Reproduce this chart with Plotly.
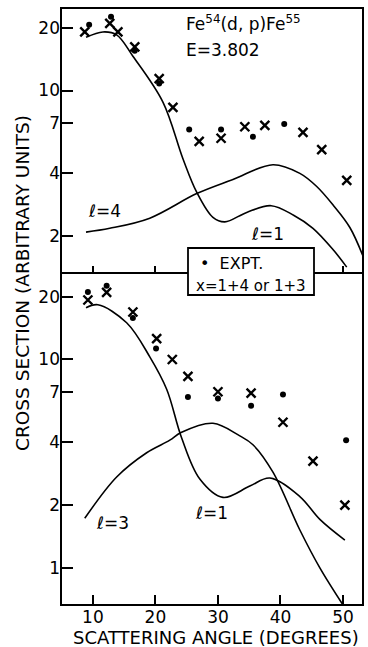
import plotly.graph_objects as go

# ---------------- data ----------------
# top panel (l=1 + l=4)
top_dot_x = [9.4, 12.9, 16.7, 20.6, 25.4, 30.5, 35.6, 40.6]
top_dot_y = [20.7, 22.6, 15.5, 10.8, 6.5, 6.5, 6.0, 6.9]
top_x_x = [8.7, 12.7, 14.0, 16.7, 20.6, 22.8, 27.0, 30.5, 34.3, 37.5, 43.6, 46.6, 50.6]
top_x_y = [19.1, 21.0, 19.1, 16.2, 11.4, 8.3, 5.7, 5.9, 6.7, 6.8, 6.3, 5.2, 3.7]
top_l1_x = [8.9, 11.6, 13.8, 16.4, 21.2, 24.4, 26.6, 29.2, 31.1, 34.6, 38.5, 42.1, 45.2, 48.5, 50.6]
top_l1_y = [18.0, 19.1, 18.5, 14.6, 8.8, 4.7, 3.25, 2.46, 2.34, 2.6, 2.8, 2.52, 2.18, 1.71, 1.42]
top_l4_x = [8.9, 12.7, 19.1, 26.6, 32.4, 38.8, 43.1, 45.8, 48.5, 51.1, 53.4]
top_l4_y = [2.09, 2.18, 2.44, 3.2, 3.74, 4.4, 4.0, 3.46, 2.8, 2.2, 1.55]

# bottom panel (l=1 + l=3)
bot_dot_x = [9.2, 12.2, 16.4, 20.1, 25.2, 30.0, 35.3, 40.4, 50.5]
bot_dot_y = [21.1, 22.6, 15.8, 11.3, 6.6, 6.5, 6.0, 6.8, 4.1]
bot_x_x = [9.2, 12.2, 16.4, 20.2, 22.7, 25.2, 30.0, 35.3, 40.4, 45.2, 50.3]
bot_x_y = [19.3, 21.0, 16.9, 12.6, 10.0, 8.3, 7.0, 6.9, 5.0, 3.25, 2.0]
bot_l1_x = [8.9, 10.8, 15.4, 19.1, 21.8, 24.2, 27.1, 30.8, 35.1, 38.3, 43.1, 46.3, 50.3]
bot_l1_y = [17.7, 18.3, 15.0, 10.3, 7.2, 4.2, 2.67, 2.18, 2.47, 2.7, 2.2, 1.71, 1.36]
bot_l3_x = [8.7, 13.8, 18.6, 22.3, 24.1, 29.2, 33.5, 35.6, 38.8, 43.1, 46.3, 50.0]
bot_l3_y = [1.73, 2.73, 3.57, 4.1, 4.46, 4.94, 4.3, 3.9, 2.88, 1.52, 1.0, 0.664]

x_ticks = [10, 20, 30, 40, 50]
top_yticks = [2, 4, 7, 10, 20]
bot_yticks = [1, 2, 4, 7, 10, 20]

FONT = "DejaVu Sans"
BLACK = "black"

fig = go.Figure()

def curve(x, y, xa, ya):
    fig.add_trace(go.Scatter(x=x, y=y, xaxis=xa, yaxis=ya, mode="lines",
                             line=dict(color=BLACK, width=1.6, shape="spline", smoothing=1.0),
                             showlegend=False, hoverinfo="skip"))

def dots(x, y, xa, ya):
    fig.add_trace(go.Scatter(x=x, y=y, xaxis=xa, yaxis=ya, mode="markers",
                             marker=dict(symbol="circle", size=6, color=BLACK),
                             showlegend=False))

def crosses(x, y, xa, ya):
    fig.add_trace(go.Scatter(x=x, y=y, xaxis=xa, yaxis=ya, mode="markers",
                             marker=dict(symbol="x-thin", size=9, color=BLACK,
                                         line=dict(color=BLACK, width=2.4)),
                             showlegend=False))

curve(top_l1_x, top_l1_y, "x2", "y2")
curve(top_l4_x, top_l4_y, "x2", "y2")
dots(top_dot_x, top_dot_y, "x2", "y2")
crosses(top_x_x, top_x_y, "x2", "y2")

curve(bot_l1_x, bot_l1_y, "x", "y")
curve(bot_l3_x, bot_l3_y, "x", "y")
dots(bot_dot_x, bot_dot_y, "x", "y")
crosses(bot_x_x, bot_x_y, "x", "y")

split = (605 - 273) / 597.0
xr = [4.9, 53.2]
tickfont = dict(family=FONT, size=17, color=BLACK)

common_x = dict(range=xr, showgrid=False, zeroline=False, showline=False,
                tickvals=x_ticks, ticks="inside", tickcolor=BLACK, tickwidth=1.5)
common_y = dict(type="log", showgrid=False, zeroline=False, showline=False,
                ticks="inside", ticklen=12, tickcolor=BLACK, tickwidth=1.5, tickfont=tickfont)
fig.update_layout(
    width=368, height=647,
    margin=dict(l=61, r=5, t=8, b=42),
    paper_bgcolor="white", plot_bgcolor="white",
    showlegend=False,
    xaxis=dict(**common_x, anchor="y", ticklen=10, tickfont=tickfont,
               ticktext=[str(v) for v in x_ticks]),
    xaxis2=dict(**common_x, anchor="y2", ticklen=7, showticklabels=False),
    yaxis=dict(**common_y, range=[-0.178, 1.415], domain=[0, split],
               tickvals=bot_yticks, ticktext=[str(v) for v in bot_yticks]),
    yaxis2=dict(**common_y, range=[0.124, 1.396], domain=[split, 1],
                tickvals=top_yticks, ticktext=[str(v) for v in top_yticks]),
)

ann_font = dict(family=FONT, size=17, color=BLACK)
def px_x(px):
    return (px - 61) / 302.0
def px_y(py):
    return (605 - py) / 597.0

annotations = [
    dict(text="Fe<sup>54</sup>(d, p)Fe<sup>55</sup>", x=px_x(184), y=px_y(23), xanchor="left"),
    dict(text="E=3.802", x=px_x(184), y=px_y(50), xanchor="left"),
    dict(text="<i>ℓ</i>=4", x=px_x(104), y=px_y(211)),
    dict(text="<i>ℓ</i>=1", x=px_x(267), y=px_y(234)),
    dict(text="<i>ℓ</i>=3", x=px_x(112), y=px_y(523)),
    dict(text="<i>ℓ</i>=1", x=px_x(211), y=px_y(513)),
    dict(text="•  EXPT.", x=px_x(198), y=px_y(263), xanchor="left",
         font=dict(family=FONT, size=16, color=BLACK)),
    dict(text="x=1+4 or 1+3", x=px_x(251), y=px_y(286),
         font=dict(family=FONT, size=15, color=BLACK)),
    dict(text="SCATTERING ANGLE (DEGREES)", x=px_x(216), y=px_y(637),
         font=dict(family=FONT, size=18, color=BLACK)),
    dict(text="CROSS SECTION (ARBITRARY UNITS)", x=px_x(22), y=px_y(283), textangle=-90,
         font=dict(family=FONT, size=18.5, color=BLACK)),
]
for a in annotations:
    a.setdefault("xref", "paper")
    a.setdefault("yref", "paper")
    a.setdefault("xanchor", "center")
    a.setdefault("yanchor", "middle")
    a.setdefault("showarrow", False)
    a.setdefault("font", ann_font)
fig.update_layout(annotations=annotations)

# frame and divider
fig.add_shape(type="rect", xref="paper", yref="paper", x0=0, x1=1, y0=0, y1=1,
              line=dict(color=BLACK, width=2), layer="above")
fig.add_shape(type="line", xref="paper", yref="paper", x0=0, x1=1, y0=split, y1=split,
              line=dict(color=BLACK, width=2), layer="above")
# legend box
fig.add_shape(type="rect", xref="paper", yref="paper",
              x0=px_x(188), x1=px_x(314), y0=px_y(295), y1=px_y(248),
              line=dict(color=BLACK, width=1.8), fillcolor="white", layer="above")

fig.write_html("out.html", config={"displayModeBar": False},
               post_script="document.body.style.margin='0';")
